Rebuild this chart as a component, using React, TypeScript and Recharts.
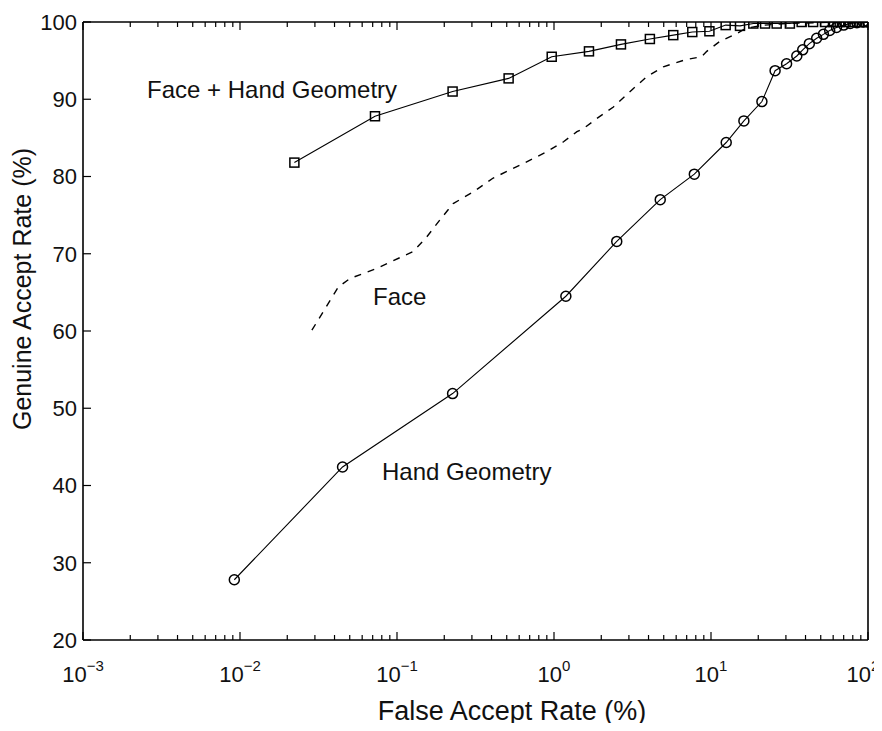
import React from 'react';
import { LineChart, Line, XAxis, YAxis } from 'recharts';

// Hand Geometry (circles)
const handFar = [0.0092, 0.045, 0.226, 1.19, 2.51, 4.75, 7.83, 12.5, 16.2, 21.1, 25.6, 30.3, 35.2, 38.4, 42.3, 47.1, 52, 57, 63, 70, 77, 85, 93, 100];
const handGar = [27.8, 42.4, 51.9, 64.5, 71.6, 77.0, 80.3, 84.4, 87.2, 89.7, 93.7, 94.6, 95.6, 96.4, 97.2, 97.9, 98.4, 98.9, 99.3, 99.6, 99.8, 99.9, 100, 100];

// Face + Hand Geometry (squares)
const fusionFar = [0.0222, 0.0724, 0.226, 0.514, 0.967, 1.67, 2.67, 4.08, 5.75, 7.6, 9.77, 12.4, 15.3, 18.6, 22.1, 26.2, 31.8, 37.8, 44.7, 53.2, 59.8, 66, 72, 80, 88, 95, 100];
const fusionGar = [81.8, 87.8, 91.0, 92.7, 95.5, 96.2, 97.1, 97.8, 98.3, 98.7, 98.8, 99.6, 99.5, 99.8, 99.8, 99.8, 99.8, 100, 100, 100, 100, 100, 100, 100, 100, 100, 100];

// Face (dashed)
const faceFar = [0.0287, 0.0423, 0.0502, 0.0742, 0.127, 0.155, 0.188, 0.228, 0.306, 0.41, 0.67, 0.898, 1.15, 1.4, 1.54, 1.87, 2.39, 3.13, 3.89, 4.97, 6.82, 8.7, 9.4, 11.4, 14.6, 16.1, 18, 22, 30, 45, 70, 100];
const faceGar = [60.1, 65.7, 66.8, 68.1, 70.3, 72.2, 74.4, 76.5, 78.0, 79.8, 81.9, 83.2, 84.5, 85.8, 86.2, 87.5, 89.0, 91.2, 92.9, 94.2, 95.1, 95.5, 96.2, 97.5, 98.5, 99.0, 99.3, 99.6, 99.8, 99.9, 100, 100];

const decades = [0.001, 0.01, 0.1, 1, 10, 100];
const decadeExps = ['\u22123', '\u22122', '\u22121', '0', '1', '2'];
const minorSteps = [2, 3, 4, 5, 6, 7, 8, 9];
const yTicks = [20, 30, 40, 50, 60, 70, 80, 90, 100];

const xTicks = [
  ...decades,
  ...decades.slice(0, -1).flatMap((d) => minorSteps.map((m) => +(d * m).toPrecision(3))),
].sort((a, b) => a - b);

const zip = (xs: number[], ys: number[]) => xs.map((x, i) => ({ x, y: ys[i] }));
const handData = zip(handFar, handGar);
const fusionData = zip(fusionFar, fusionGar);
const faceData = zip(faceFar, faceGar);

const FONT = '"Liberation Sans", Arial, Helvetica, sans-serif';
const INK = '#111';

const decadeIndex = (v: number) => decades.findIndex((d) => Math.abs(d - v) < d * 1e-6);

function BottomTick({ x, y, payload }: any) {
  const i = decadeIndex(payload.value);
  const len = i >= 0 ? 8 : 5;
  // last label sits at the right edge; nudge it so it stays on the page
  const lx = i === decades.length - 1 ? x - 5 : x;
  return (
    <g>
      <line x1={x} y1={y} x2={x} y2={y - len} stroke="#000" strokeWidth={1.2} />
      {i >= 0 && (
        <text x={lx} y={y + 42} textAnchor="middle" fontSize={22} fill={INK} fontFamily={FONT}>
          <tspan>10</tspan>
          <tspan dy={-11} fontSize={15}>{decadeExps[i]}</tspan>
        </text>
      )}
    </g>
  );
}

function TopTick({ x, y, payload }: any) {
  const len = decadeIndex(payload.value) >= 0 ? 8 : 5;
  return <line x1={x} y1={y} x2={x} y2={y + len} stroke="#000" strokeWidth={1.2} />;
}

function LeftTick({ x, y, payload }: any) {
  return (
    <g>
      <line x1={x} y1={y} x2={x + 8} y2={y} stroke="#000" strokeWidth={1.2} />
      <text x={x - 6} y={y} dy="0.36em" textAnchor="end" fontSize={22} fill={INK} fontFamily={FONT}>
        {payload.value}
      </text>
    </g>
  );
}

function RightTick({ x, y }: any) {
  return <line x1={x} y1={y} x2={x - 8} y2={y} stroke="#000" strokeWidth={1.2} />;
}

function SquareDot({ cx, cy, index }: any) {
  return <rect key={`s${index}`} x={cx - 4.5} y={cy - 4.5} width={9} height={9} fill="none" stroke="#000" strokeWidth={1.5} />;
}

function CircleDot({ cx, cy, index }: any) {
  return <circle key={`c${index}`} cx={cx} cy={cy} r={5} fill="none" stroke="#000" strokeWidth={1.5} />;
}

const axisLine = { stroke: '#000', strokeWidth: 1.6 };

export default function App() {
  return (
    <div style={{ position: 'relative', width: 874, height: 715 }}>
      <LineChart width={874} height={715} margin={{ top: 0, right: 0, bottom: 0, left: 0 }}>
        <XAxis
          dataKey="x" type="number" scale="log" domain={[0.001, 100]} allowDataOverflow
          ticks={xTicks} interval={0} height={83} tickSize={0} tickMargin={0}
          tickLine={false} axisLine={axisLine} tick={<BottomTick />}
        />
        <XAxis
          xAxisId="top" orientation="top" dataKey="x" type="number" scale="log" domain={[0.001, 100]} allowDataOverflow
          ticks={xTicks} interval={0} height={14} tickSize={0} tickMargin={0}
          tickLine={false} axisLine={axisLine} tick={<TopTick />}
        />
        <YAxis
          type="number" domain={[20, 100]} ticks={yTicks} interval={0} width={75}
          tickSize={0} tickMargin={0} tickLine={false} axisLine={axisLine} tick={<LeftTick />}
          allowDataOverflow
        />
        <YAxis
          yAxisId="right" orientation="right" type="number" domain={[20, 100]} ticks={yTicks} interval={0} width={14}
          tickSize={0} tickMargin={0} tickLine={false} axisLine={axisLine} tick={<RightTick />}
        />
        <Line data={faceData} dataKey="y" type="linear" stroke="#000" strokeWidth={1.4} strokeDasharray="7 7" dot={false} activeDot={false} isAnimationActive={false} />
        <Line data={fusionData} dataKey="y" type="linear" stroke="#000" strokeWidth={1.1} dot={<SquareDot />} activeDot={false} isAnimationActive={false} />
        <Line data={handData} dataKey="y" type="linear" stroke="#000" strokeWidth={1.1} dot={<CircleDot />} activeDot={false} isAnimationActive={false} />
      </LineChart>
      <svg width={874} height={715} style={{ position: 'absolute', left: 0, top: 0, overflow: 'visible', pointerEvents: 'none' }}>
        <g fontFamily={FONT} fill={INK}>
          <text x={139} y={90} fontSize={24}>Face + Hand Geometry</text>
          <text x={365} y={297} fontSize={24}>Face</text>
          <text x={374} y={472} fontSize={24}>Hand Geometry</text>
          <text x={504} y={712} fontSize={27} textAnchor="middle">False Accept Rate (%)</text>
          <text x={23} y={281} fontSize={25} textAnchor="middle" transform="rotate(-90 23 281)">Genuine Accept Rate (%)</text>
        </g>
      </svg>
    </div>
  );
}
